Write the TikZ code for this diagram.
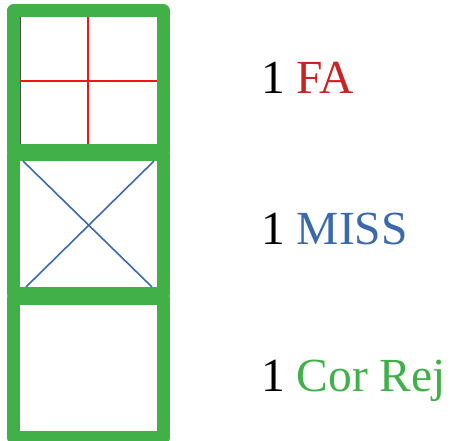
\documentclass[tikz,border=0pt]{standalone}
\usepackage{fontspec}
\setmainfont{Liberation Serif}
\definecolor{framegreen}{RGB}{65,176,72}
\definecolor{farred}{RGB}{200,36,36}
\definecolor{missblue}{RGB}{58,106,172}
\definecolor{crossred}{RGB}{240,20,20}
\begin{document}
\begin{tikzpicture}[x=1pt,y=-1pt,
  cell/.style={draw=framegreen,line width=13pt,line join=round},
  label/.style={anchor=base west,inner sep=0pt,font=\fontsize{47.5}{56}\selectfont}]
\useasboundingbox (0,0) rectangle (451,441);
% three stacked cells
\draw[cell] (13.5,11) rectangle (163.5,150.5);
\draw[cell] (13.5,154.5) rectangle (163.5,293.5);
\draw[cell] (13.5,298.5) rectangle (163.5,437.5);
% inner marks
\draw[black!70,line width=1pt] (20.5,17) -- (20.5,144);
\draw[crossred,line width=1.6pt] (87.7,17) -- (87.7,144);
\draw[crossred,line width=1.6pt] (20,81) -- (157,81);
\draw[missblue,line width=1.6pt] (23,161) -- (152,287);
\draw[missblue,line width=1.6pt] (154,161) -- (26,287);
% counts
\node[label] (fa) at (261,94) {1 \textcolor{farred}{FA}};
\node[label] (miss) at (261,245) {1 \textcolor{missblue}{MISS}};
\node[label] (cr) at (261,392) {1 \textcolor{framegreen}{Cor Rej}};
\end{tikzpicture}
\end{document}
